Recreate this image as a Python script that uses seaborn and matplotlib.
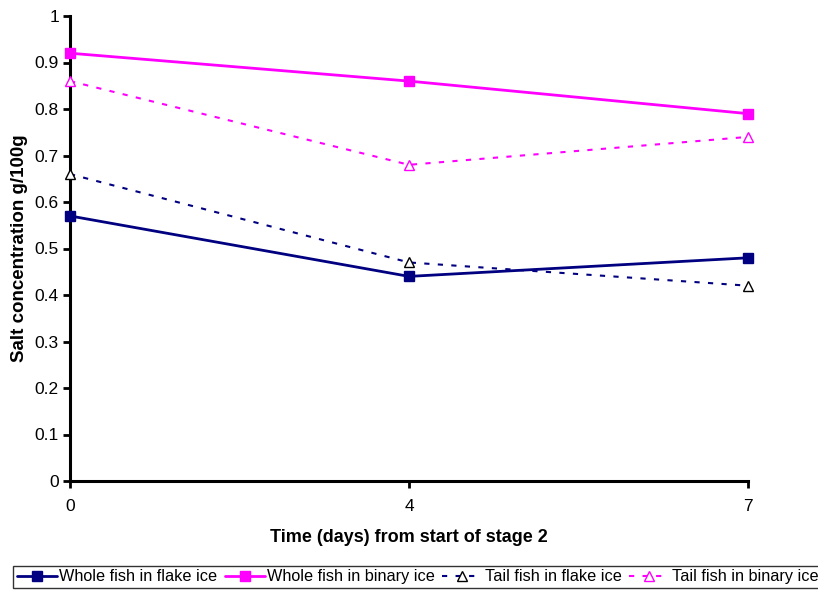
import matplotlib
matplotlib.use("Agg")
import matplotlib.pyplot as plt
import seaborn as sns
import pandas as pd

days = ["0", "4", "7"]
whole_flake = [0.57, 0.44, 0.48]
whole_binary = [0.92, 0.86, 0.79]
tail_flake = [0.66, 0.47, 0.42]
tail_binary = [0.86, 0.68, 0.74]

series_names = ["Whole fish in flake ice", "Whole fish in binary ice",
                "Tail fish in flake ice", "Tail fish in binary ice"]
series_vals = [whole_flake, whole_binary, tail_flake, tail_binary]

rows = []
for name, vals in zip(series_names, series_vals):
    for i, v in enumerate(vals):
        rows.append({"pos": i, "day": days[i], "value": v, "series": name})
df = pd.DataFrame(rows)

sns.set_style("white")
plt.rcParams["font.family"] = ["Liberation Sans", "DejaVu Sans"]
for k in ["text.color", "axes.labelcolor", "xtick.color", "ytick.color"]:
    plt.rcParams[k] = "black"

fig = plt.figure(figsize=(8.18, 5.90), dpi=100)
ax = fig.add_axes([70/818, 1-481/590, (748-70)/818, (481-16)/590])

navy = "#000080"
mag = "#FF00FF"
styles = {
    "Whole fish in flake ice": dict(color=navy, ls="-", lw=2.0, marker="s", ms=6.5, mfc=navy, mec=navy),
    "Whole fish in binary ice": dict(color=mag, ls="-", lw=2.0, marker="s", ms=6.5, mfc=mag, mec=mag),
    "Tail fish in flake ice": dict(color=navy, ls=(0, (2.5, 4)), lw=1.5, marker="^", ms=6.5, mfc="white", mec="black"),
    "Tail fish in binary ice": dict(color=mag, ls=(0, (2.5, 4)), lw=1.5, marker="^", ms=6.5, mfc="white", mec=mag),
}

handles = []
for name in series_names:
    st = styles[name]
    sub = df[df["series"] == name]
    sns.lineplot(data=sub, x="pos", y="value", ax=ax, color=st["color"],
                 linestyle=st["ls"], linewidth=st["lw"], marker=st["marker"],
                 markersize=st["ms"], markerfacecolor=st["mfc"],
                 markeredgecolor=st["mec"], markeredgewidth=1.0,
                 legend=False, clip_on=False, zorder=3)
    handles.append(ax.lines[-1])

ax.set_xlim(0, 2)
ax.set_ylim(0, 1)
ax.set_xticks(range(len(days)))
ax.set_xticklabels(days)
ax.set_yticks([i / 10 for i in range(11)])
ax.set_yticklabels(["0"] + [f"{i/10:.1f}" for i in range(1, 10)] + ["1"])

for s in ["top", "right"]:
    ax.spines[s].set_visible(False)
for s in ["left", "bottom"]:
    ax.spines[s].set_linewidth(2.2)
    ax.spines[s].set_color("black")

ax.tick_params(axis="y", left=True, direction="out", length=5, width=2, labelsize=12.5, pad=3, colors="black")
ax.tick_params(axis="x", bottom=True, direction="out", length=5, width=2, labelsize=12.5, pad=8, colors="black")

ax.set_xlabel("Time (days) from start of stage 2", fontsize=13, fontweight="bold", labelpad=11, color="black")
ax.set_ylabel("Salt concentration g/100g", fontsize=13.5, fontweight="bold", labelpad=5, color="black")

fs = 11.7
leg = fig.legend(handles, series_names, loc="lower left", bbox_to_anchor=(13/818, 2/590),
                 borderaxespad=0, ncol=4, frameon=True, fontsize=fs, handlelength=2.46,
                 handletextpad=0.18, columnspacing=0.43, borderpad=0.22,
                 fancybox=False, edgecolor="black")
leg.get_frame().set_linewidth(1.0)
for t in leg.get_texts():
    t.set_color("black")

fig.savefig("out.png", dpi=100)
